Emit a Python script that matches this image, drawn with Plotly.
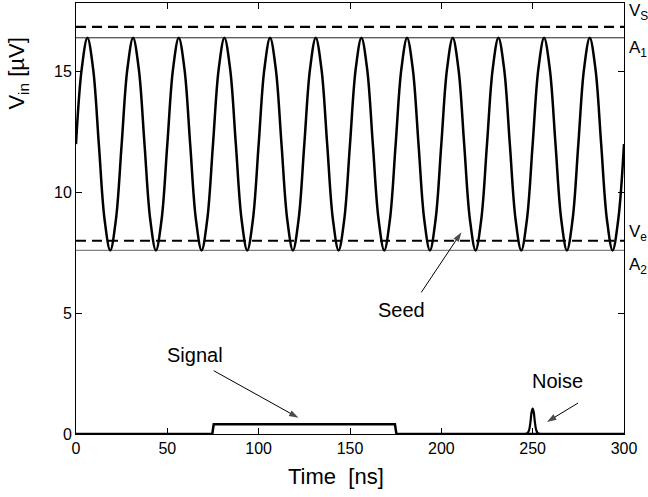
import plotly.graph_objects as go

# ---------------- data ----------------
# Seed oscillation: samples every 1/8 period (period 25 ns)
seed_t = [0, 3.125, 6.25, 9.375, 12.5, 15.625, 18.75, 21.875,
          25, 28.125, 31.25, 34.375, 37.5, 40.625, 43.75, 46.875,
          50, 53.125, 56.25, 59.375, 62.5, 65.625, 68.75, 71.875,
          75, 78.125, 81.25, 84.375, 87.5, 90.625, 93.75, 96.875,
          100, 103.125, 106.25, 109.375, 112.5, 115.625, 118.75, 121.875,
          125, 128.125, 131.25, 134.375, 137.5, 140.625, 143.75, 146.875,
          150, 153.125, 156.25, 159.375, 162.5, 165.625, 168.75, 171.875,
          175, 178.125, 181.25, 184.375, 187.5, 190.625, 193.75, 196.875,
          200, 203.125, 206.25, 209.375, 212.5, 215.625, 218.75, 221.875,
          225, 228.125, 231.25, 234.375, 237.5, 240.625, 243.75, 246.875,
          250, 253.125, 256.25, 259.375, 262.5, 265.625, 268.75, 271.875,
          275, 278.125, 281.25, 284.375, 287.5, 290.625, 293.75, 296.875,
          300]
seed_v = [12.0, 15.11, 16.4, 15.11, 12.0, 8.89, 7.6, 8.89,
          12.0, 15.11, 16.4, 15.11, 12.0, 8.89, 7.6, 8.89,
          12.0, 15.11, 16.4, 15.11, 12.0, 8.89, 7.6, 8.89,
          12.0, 15.11, 16.4, 15.11, 12.0, 8.89, 7.6, 8.89,
          12.0, 15.11, 16.4, 15.11, 12.0, 8.89, 7.6, 8.89,
          12.0, 15.11, 16.4, 15.11, 12.0, 8.89, 7.6, 8.89,
          12.0, 15.11, 16.4, 15.11, 12.0, 8.89, 7.6, 8.89,
          12.0, 15.11, 16.4, 15.11, 12.0, 8.89, 7.6, 8.89,
          12.0, 15.11, 16.4, 15.11, 12.0, 8.89, 7.6, 8.89,
          12.0, 15.11, 16.4, 15.11, 12.0, 8.89, 7.6, 8.89,
          12.0, 15.11, 16.4, 15.11, 12.0, 8.89, 7.6, 8.89,
          12.0, 15.11, 16.4, 15.11, 12.0, 8.89, 7.6, 8.89,
          12.0]

# Signal pulse
signal_t = [0, 74.6, 75.4, 174.6, 175.4, 300]
signal_v = [0, 0, 0.4, 0.4, 0, 0]

# Noise spike
noise_t = [245, 247, 248, 248.8, 249.4, 250, 250.6, 251.2, 252, 253, 255]
noise_v = [0, 0.02, 0.15, 0.5, 0.9, 1.05, 0.9, 0.5, 0.15, 0.02, 0]

# Reference levels
VS = 16.85
A1 = 16.4
VE = 8.0
A2 = 7.6

# Callout labels: text position, arrow tail, arrow head (data units)
labels = ["Seed", "Signal", "Noise"]
label_x = [178.3, 65.1, 263.8]
label_y = [5.15, 3.27, 2.18]
arrow_tail_x = [189.0, 75.4, 274.8]
arrow_tail_y = [5.86, 2.62, 1.28]
arrow_head_x = [211.0, 121.8, 257.8]
arrow_head_y = [8.35, 0.67, 0.5]

# Right-side level labels
level_labels = ["V<sub>S</sub>", "A<sub>1</sub>", "V<sub>e</sub>", "A<sub>2</sub>"]
level_label_y = [17.45, 15.95, 8.3, 6.95]

x_ticks = [0, 50, 100, 150, 200, 250, 300]
y_ticks = [0, 5, 10, 15]
X_RANGE = [0, 300]
Y_RANGE = [0, 17.84]

FONT = "Liberation Sans, Arial, Helvetica, sans-serif"

fig = go.Figure()

# level lines
fig.add_trace(go.Scatter(x=X_RANGE, y=[A1, A1], mode="lines",
                         line=dict(color="#222222", width=1), hoverinfo="skip"))
fig.add_trace(go.Scatter(x=X_RANGE, y=[A2, A2], mode="lines",
                         line=dict(color="#808080", width=1.3), hoverinfo="skip"))
fig.add_trace(go.Scatter(x=X_RANGE, y=[VS, VS], mode="lines",
                         line=dict(color="black", width=2.2, dash="10px,6px"), hoverinfo="skip"))
fig.add_trace(go.Scatter(x=X_RANGE, y=[VE, VE], mode="lines",
                         line=dict(color="black", width=2.2, dash="10px,6px"), hoverinfo="skip"))

# seed oscillation
fig.add_trace(go.Scatter(x=seed_t, y=seed_v, mode="lines",
                         line=dict(color="black", width=2.5, shape="spline", smoothing=1.0)))
# signal and noise
fig.add_trace(go.Scatter(x=signal_t, y=signal_v, mode="lines",
                         line=dict(color="black", width=2.5)))
fig.add_trace(go.Scatter(x=noise_t, y=noise_v, mode="lines",
                         line=dict(color="black", width=2.2, shape="spline", smoothing=1.0)))

# callout arrows (line + arrow marker at the head)
for i in range(len(labels)):
    fig.add_trace(go.Scatter(
        x=[arrow_tail_x[i], arrow_head_x[i]], y=[arrow_tail_y[i], arrow_head_y[i]],
        mode="lines+markers", line=dict(color="black", width=1),
        marker=dict(symbol=["circle", "arrow"], size=[0, 10], color="black",
                    angleref="previous", line=dict(width=0)),
        hoverinfo="skip", cliponaxis=False))

ann = []
for i in range(len(labels)):
    ann.append(dict(x=label_x[i], y=label_y[i], xref="x", yref="y", text=labels[i],
                    showarrow=False, xanchor="center", yanchor="middle",
                    font=dict(size=20, family=FONT, color="black")))

for txt, yv in zip(level_labels, level_label_y):
    ann.append(dict(x=1.005, y=yv, xref="paper", yref="y", xanchor="left", yanchor="middle",
                    text=txt, showarrow=False, font=dict(size=17, family=FONT, color="black")))

# axis titles
ann.append(dict(x=-0.106, y=0.836, xref="paper", yref="paper", textangle=-90,
                xanchor="center", yanchor="middle",
                text="V<sub>in</sub> [µV]", showarrow=False,
                font=dict(size=22, family=FONT, color="black")))
ann.append(dict(x=0.474, y=-0.099, xref="paper", yref="paper", text="Time  [ns]",
                xanchor="center", yanchor="middle",
                showarrow=False, font=dict(size=22, family=FONT, color="black")))

fig.update_layout(
    width=648, height=497,
    margin=dict(l=76, r=24, t=3, b=63),
    plot_bgcolor="white", paper_bgcolor="white",
    showlegend=False,
    font=dict(family=FONT, size=16, color="black"),
    annotations=ann,
)
fig.update_xaxes(range=X_RANGE, tickvals=x_ticks, ticktext=[str(v) for v in x_ticks],
                 ticks="inside", ticklen=6, tickcolor="black", showgrid=False, zeroline=False,
                 showline=True, linecolor="black", linewidth=1, mirror="ticks",
                 tickfont=dict(size=16, family=FONT))
fig.update_yaxes(range=Y_RANGE, tickvals=y_ticks, ticktext=[str(v) for v in y_ticks],
                 ticks="inside", ticklen=6, tickcolor="black", showgrid=False, zeroline=False,
                 showline=True, linecolor="black", linewidth=1, mirror="ticks",
                 tickfont=dict(size=16, family=FONT))

fig.write_html("out.html", config={"displayModeBar": False},
               post_script="document.body.style.margin='0';")
